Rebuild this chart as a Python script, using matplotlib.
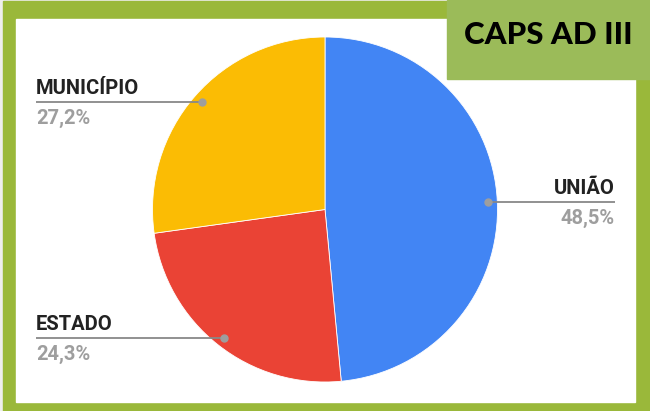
import numpy as np
import matplotlib
matplotlib.use("Agg")
import matplotlib.pyplot as plt
from matplotlib.patches import Rectangle

# data
labels = ["UNIÃO", "ESTADO", "MUNICÍPIO"]
values = [48.5, 24.3, 27.2]
pct_text = ["48,5%", "24,3%", "27,2%"]
colors = ["#4285F4", "#EA4335", "#FBBC04"]
title = "CAPS AD III"

W, H = 650, 411
BORDER, BOX = "#9AB83A", "#9BBB59"
DARK, GREY = "#222222", "#9E9E9E"

fig = plt.figure(figsize=(W / 100, H / 100), dpi=100, facecolor="#eeeeee")
ax = fig.add_axes([0, 0, 1, 1])
ax.set_axis_off()

def Y(y):  # pixel row (from top) -> data y
    return H - y

# frame + white panel + title box
ax.add_patch(Rectangle((3, 0), W - 3, Y(1), color=BORDER, zorder=0))
ax.add_patch(Rectangle((16, Y(402)), 635 - 16, 402 - 19, color="white", zorder=1))
ax.add_patch(Rectangle((447, Y(79)), W - 447, 79, color=BOX, zorder=2))
ax.text(548, Y(35), title, ha="center", va="center", fontsize=22.5,
        family="Lato", fontweight="black", color="black", zorder=3)

# pie
cx, cy, R = 325, Y(209.5), 172.5
wedges, _ = ax.pie(values, colors=colors, startangle=90, counterclock=False,
                   center=(cx, cy), radius=R, frame=True,
                   wedgeprops=dict(edgecolor="white", linewidth=0.6))
for w in wedges:
    w.set_zorder(2)

ax.set_xlim(0, W)
ax.set_ylim(0, H)
ax.set_aspect("equal")
ax.set_axis_off()

# leader lines + labels
for w, lab, pct in zip(wedges, labels, pct_text):
    mid = np.deg2rad((w.theta1 + w.theta2) / 2)
    px, py = cx + 0.947 * R * np.cos(mid), cy + 0.947 * R * np.sin(mid)
    if np.cos(mid) > 0:
        x_end, ha = 615, "right"
    else:
        x_end, ha = 36, "left"
    ax.plot([px, x_end], [py, py], color="#888888", lw=1.3, zorder=4,
            solid_capstyle="butt")
    ax.plot(px, py, "o", ms=5, color="#9E9E9E", zorder=5)
    ax.text(x_end, py + 8, lab, ha=ha, va="baseline", fontsize=14.5,
            family="Roboto", fontweight="bold", color=DARK, zorder=5)
    ax.text(x_end, py - 22, pct, ha=ha, va="baseline", fontsize=14.5,
            family="Roboto", fontweight="bold", color=GREY, zorder=5)

fig.savefig("out.png", dpi=100, facecolor=fig.get_facecolor())
